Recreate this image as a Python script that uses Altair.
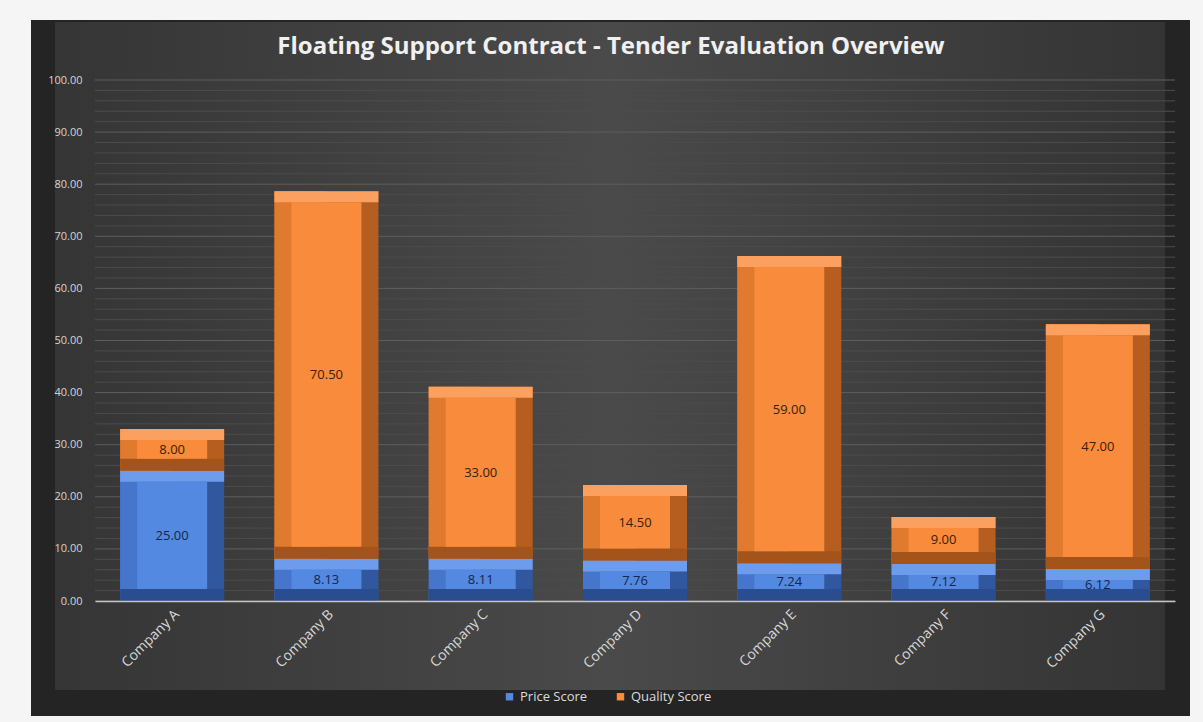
import altair as alt
import pandas as pd

# ---------------- data ----------------
companies = ["Company A", "Company B", "Company C", "Company D", "Company E", "Company F", "Company G"]
price_score = [25.00, 8.13, 8.11, 7.76, 7.24, 7.12, 6.12]
quality_score = [8.00, 70.50, 33.00, 14.50, 59.00, 9.00, 47.00]
series_names = ["Price Score", "Quality Score"]
y_ticks = [0, 10, 20, 30, 40, 50, 60, 70, 80, 90, 100]
minor_grid = [v for v in range(0, 101, 2) if v % 10 != 0]
title_text = "Floating Support Contract - Tender Evaluation Overview"

# styles
face = {"Price Score": "#5389e0", "Quality Score": "#f98b3c"}
top_c = {"Price Score": "#6d9cec", "Quality Score": "#fba05e"}
left_c = {"Price Score": "#4576cc", "Quality Score": "#e07a2e"}
right_c = {"Price Score": "#31589f", "Quality Score": "#b65e1f"}
bottom_c = {"Price Score": "#2a4d8f", "Quality Score": "#a4531a"}
text_c = {"Price Score": "#14264d", "Quality Score": "#3a1e08"}

rows = []
for c, p, q in zip(companies, price_score, quality_score):
    for s, start, end in (("Price Score", 0.0, p), ("Quality Score", p, p + q)):
        val = p if s == "Price Score" else q
        rows.append({
            "company": c, "series": s, "start": start, "end": end,
            "mid": (start + end) / 2, "label": f"{val:.2f}",
            "top": top_c[s], "left": left_c[s], "right": right_c[s],
            "bottom": bottom_c[s], "txt": text_c[s],
        })
df = pd.DataFrame(rows)

W, H = 1080, 521
FONT = "Open Sans"

xscale = alt.Scale(domain=companies, paddingInner=0.33, paddingOuter=0.165)
yscale = alt.Scale(domain=[0, 100], nice=False)
xaxis = alt.Axis(title=None, labelAngle=315, labelColor="#d9d9d9", labelFontSize=14,
                 labelFont=FONT, labelPadding=6, ticks=False, domain=True,
                 domainColor="#c4c4c4", domainWidth=1.5, grid=False, zindex=1)
yaxis = alt.Axis(title=None, values=y_ticks, format=".2f", labelColor="#d4d4d4",
                 labelFontSize=11, labelFont=FONT, labelPadding=13, ticks=False,
                 domain=False, grid=False, zindex=1)

X = alt.X("company:N", scale=xscale, axis=xaxis, sort=companies)

def Y(f):
    return alt.Y(f + ":Q", scale=yscale, axis=yaxis)

def Y2(f):
    return alt.Y2(f + ":Q")

one = pd.DataFrame({"a": [0]})

frame = alt.Chart(one).mark_rect(color="#242424").encode(
    x=alt.value(-64), x2=alt.value(1095), y=alt.value(-60), y2=alt.value(636))

panel = alt.Chart(one).mark_rect(
    color=alt.Gradient(
        gradient="linear",
        stops=[alt.GradientStop(color="#353535", offset=0),
               alt.GradientStop(color="#4a4a4a", offset=0.5),
               alt.GradientStop(color="#343434", offset=1)],
        x1=0, x2=1, y1=0, y2=0)
).encode(x=alt.value(-40), x2=alt.value(1070), y=alt.value(-58), y2=alt.value(610))

title = alt.Chart(one).mark_text(
    text=title_text, font=FONT, fontSize=24, fontWeight="bold", color="#f0f0f0",
    align="center", baseline="middle"
).encode(x=alt.value(516), y=alt.value(-33))

minor = alt.Chart(pd.DataFrame({"v": minor_grid})).mark_rule(
    color="#4c4c4c", strokeWidth=1).encode(y=Y("v"))
major = alt.Chart(pd.DataFrame({"v": y_ticks})).mark_rule(
    color="#5e5e5e", strokeWidth=1).encode(y=Y("v"))

base = alt.Chart(df)

outer = base.mark_bar(size=104).encode(
    x=X, y=Y("end"), y2=Y2("start"), fill=alt.Fill("right:N", scale=None))
left = base.mark_bar(size=52, xOffset=-26).encode(
    x=X, y=Y("end"), y2=Y2("start"), fill=alt.Fill("left:N", scale=None))
topb = base.mark_bar(size=104, y2Offset=11).encode(
    x=X, y=Y("end"), y2=Y2("end"), fill=alt.Fill("top:N", scale=None))
botb = base.mark_bar(size=104, yOffset=-12).encode(
    x=X, y=Y("start"), y2=Y2("start"), fill=alt.Fill("bottom:N", scale=None))
facel = base.mark_bar(size=70, yOffset=11, y2Offset=-12).encode(
    x=X, y=Y("end"), y2=Y2("start"),
    color=alt.Color("series:N",
                    scale=alt.Scale(domain=series_names,
                                    range=[face[s] for s in series_names]),
                    legend=alt.Legend(title=None, orient="none", legendX=408, legendY=610,
                                      direction="horizontal", symbolType="square",
                                      symbolSize=55, labelColor="#dcdcdc",
                                      labelFont=FONT, labelFontSize=13,
                                      columnPadding=26, symbolStrokeWidth=0)))
labels = base.mark_text(font=FONT, fontSize=13, baseline="middle").encode(
    x=X, y=Y("mid"), text="label:N", fill=alt.Fill("txt:N", scale=None))

chart = alt.layer(frame, panel, title, minor, major, outer, left, topb, botb, facel, labels).properties(
    width=W, height=H,
    autosize=alt.AutoSizeParams(type="none"),
    padding={"left": 95, "top": 80, "right": 28, "bottom": 121},
    background="#f5f5f5",
).configure_view(stroke=None)

chart.save("out.html", embed_options={"renderer": "svg", "actions": False})
